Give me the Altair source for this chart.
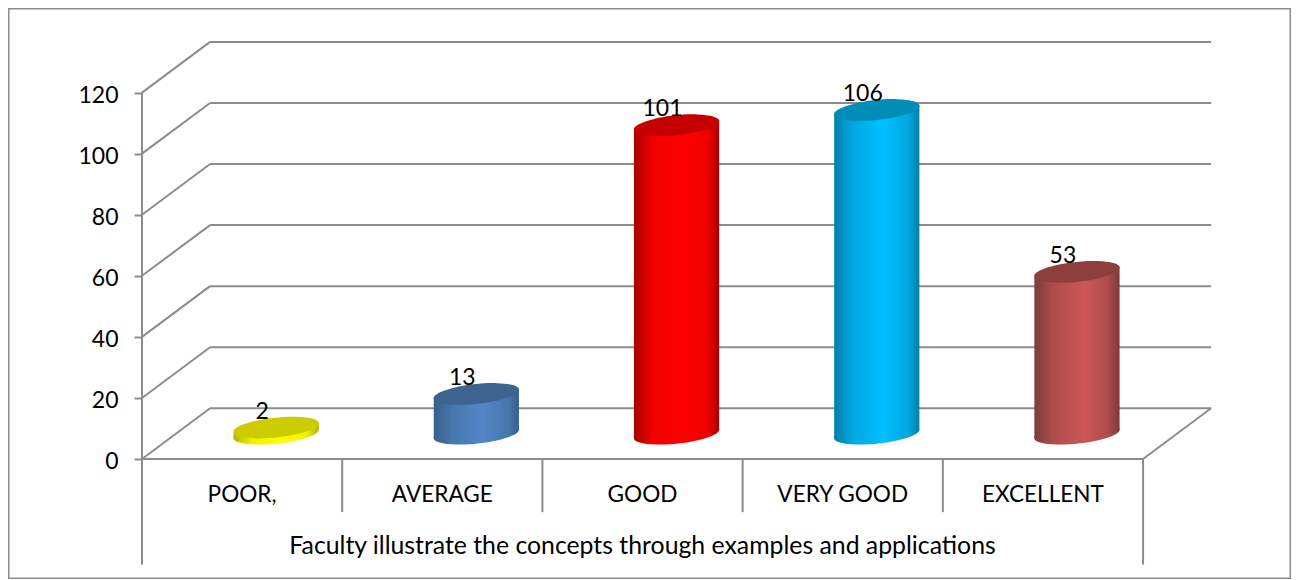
import altair as alt
import pandas as pd

categories = ["POOR,", "AVERAGE", "GOOD", "VERY GOOD", "EXCELLENT"]
values = [2, 13, 101, 106, 53]
y_ticks = [0, 20, 40, 60, 80, 100, 120]
x_title = "Faculty illustrate the concepts through examples and applications"

top_colors = ["#CCCC00", "#3D648F", "#C40000", "#008DB8", "#8E3F3D"]
edge_colors = ["#B4B400", "#37608C", "#A80000", "#0080A8", "#7B3B39"]
near_colors = ["#F0F000", "#4677AE", "#F00000", "#00A8E0", "#AE4D4B"]
mid_colors = ["#FFFF00", "#5286C6", "#FF0000", "#00BFFF", "#CC5755"]

LINE = "#8C8C8C"
FONT = "Lato"
FS_TICK, FS_CAT, FS_TITLE = 23, 22.6, 24.8
W, H = 1283, 571
DX, DY = 0.34, 16.6       # depth of the 3-D box, in data units
BASE, CX = 8.3, 0.17      # bar placement inside the depth
HALF, TILT = 0.2128, 1.41
ELLIPSE = "M-.9945,.1045A1,.23,-6,1,1,.9945,-.1045A1,.23,-6,1,1,-.9945,.1045Z"

xs = alt.Scale(domain=[-0.6693, 5.739], nice=False, zero=False)
ys = alt.Scale(domain=[-39.3, 147.7], nice=False, zero=False)
y_axis = alt.Axis(
    values=y_ticks, offset=-134, domain=False, grid=False, title=None,
    tickColor=LINE, tickWidth=2, tickSize=8, labelPadding=16, labelOffset=3,
    labelFont=FONT, labelFontSize=FS_TICK, labelColor="black",
)
X = alt.X("x:Q", scale=xs, axis=None)
Y = alt.Y("y:Q", scale=ys, axis=y_axis)


def segments(rows, width=2):
    return alt.Chart(pd.DataFrame(rows, columns=["x", "x2", "y", "y2"])).mark_rule(
        color=LINE, strokeWidth=width
    ).encode(X, alt.X2("x2:Q"), Y, alt.Y2("y2:Q"))


n = len(categories)
walls = [(DX, n + DX, t + DY, t + DY) for t in y_ticks]
walls += [(0, DX, t, t + DY) for t in y_ticks]
walls += [(n, n + DX, 0, DY), (0, n, 0, 0), (0, 0, 0, 120)]
walls += [(i, i, 0, -17.4) for i in range(1, n)]
walls += [(0, 0, 0, -34.6), (n, n, 0, -34.6)]

layers = [segments(walls)]


def gradient(edge, near, mid):
    return alt.Gradient(
        gradient="linear", x1=0, x2=1, y1=0, y2=0,
        stops=[
            alt.GradientStop(offset=0, color=edge),
            alt.GradientStop(offset=0.22, color=near),
            alt.GradientStop(offset=0.58, color=mid),
            alt.GradientStop(offset=0.86, color=near),
            alt.GradientStop(offset=1, color=edge),
        ],
    )


def ellipse(cx, cy, fill):
    return alt.Chart(pd.DataFrame({"x": [cx], "y": [cy]})).mark_point(
        shape=ELLIPSE, filled=True, size=7396, opacity=1, fill=fill, strokeWidth=0
    ).encode(X, Y)


for i, v in enumerate(values):
    cx = i + 0.5 + CX
    side = gradient(edge_colors[i], near_colors[i], mid_colors[i])
    top_y = v + BASE
    layers.append(ellipse(cx, BASE, side))
    body = pd.DataFrame({
        "x": [cx - HALF, cx + HALF],
        "y": [top_y - TILT, top_y + TILT],
        "y2": [BASE - TILT, BASE + TILT],
    })
    layers.append(
        alt.Chart(body).mark_area(fill=side, opacity=1, interpolate="linear").encode(X, Y, alt.Y2("y2:Q"))
    )
    layers.append(ellipse(cx, top_y, top_colors[i]))

cats = pd.DataFrame({"x": [i + 0.5 for i in range(n)], "y": [-11.8] * n, "t": categories})
layers.append(
    alt.Chart(cats).mark_text(
        font=FONT, fontSize=FS_CAT, color="black", align="center", baseline="middle"
    ).encode(X, Y, alt.Text("t:N"))
)
title = pd.DataFrame({"x": [n / 2], "y": [-28.9], "t": [x_title]})
layers.append(
    alt.Chart(title).mark_text(
        font=FONT, fontSize=FS_TITLE, color="black", align="center", baseline="middle"
    ).encode(X, Y, alt.Text("t:N"))
)
labels = pd.DataFrame({
    "x": [i + 0.5 + CX - 0.07 for i in range(n)],
    "y": [v + BASE + 2.95 for v in values],
    "t": [str(v) for v in values],
})
layers.append(
    alt.Chart(labels).mark_text(
        font=FONT, fontSize=FS_TICK, color="black", align="center", baseline="alphabetic"
    ).encode(X, Y, alt.Text("t:N"))
)

chart = (
    alt.layer(*layers)
    .properties(width=W, height=H, padding=0, autosize=alt.AutoSizeParams(type="none"), background="white")
    .configure_view(stroke="#8C8C8C", strokeWidth=3)
)
chart.save("out.html", embed_options={"renderer": "svg", "actions": False})
